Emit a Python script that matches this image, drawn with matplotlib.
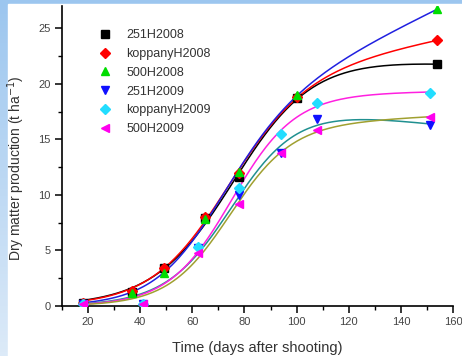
import numpy as np
import matplotlib
matplotlib.use('Agg')
import matplotlib.pyplot as plt
from matplotlib.lines import Line2D
from matplotlib.patches import Rectangle

plt.rcParams['font.family'] = ['Liberation Sans', 'DejaVu Sans']

# sampling days
days_2008 = [18, 37, 49, 65, 78, 100, 154]
days_2009 = [18, 41, 62, 78, 94, 108, 151]

# dry matter (t/ha)
h251_2008 = [0.25, 1.3, 3.4, 7.9, 11.6, 18.7, 21.75]
kop_2008 = [0.3, 1.35, 3.46, 8.0, 12.0, 18.8, 23.9]
h500_2008 = [0.2, 1.14, 2.95, 7.8, 12.1, 19.0, 26.7]
h251_2009 = [0.2, 0.15, 5.2, 10.0, 13.8, 16.8, 16.3]
kop_2009 = [0.2, 0.15, 5.35, 10.6, 15.5, 18.3, 19.2]
h500_2009 = [0.2, 0.15, 4.75, 9.2, 13.8, 15.8, 17.0]

series = [
    ('251H2008', days_2008, h251_2008, 's', 'black', 'black'),
    ('koppanyH2008', days_2008, kop_2008, 'D', 'red', 'red'),
    ('500H2008', days_2008, h500_2008, '^', '#00dd00', '#2020e0'),
    ('251H2009', days_2009, h251_2009, 'v', '#1010ff', '#209090'),
    ('koppanyH2009', days_2009, kop_2009, 'D', '#22ddff', '#ff20e0'),
    ('500H2009', days_2009, h500_2009, '<', '#ff00ee', '#a0a030'),
]


def model(p, x):
    # logistic growth with a slow linear drift at the top
    return p[0] / (1 + np.exp(-p[1] * (x - p[2]))) * (1 + p[3] * (x - 100) / 100)


def fit(x, y):
    # least squares fit (Levenberg-Marquardt, numpy only)
    x = np.asarray(x, float)
    y = np.asarray(y, float)
    p = np.array([max(y), 0.07, 75.0, 0.0])
    lam = 1e-2
    for _ in range(500):
        r = y - model(p, x)
        J = np.empty((len(x), len(p)))
        for k in range(len(p)):
            dp = np.zeros(len(p))
            dp[k] = 1e-6 * max(abs(p[k]), 1)
            J[:, k] = (model(p + dp, x) - model(p, x)) / dp[k]
        A = J.T @ J
        step = np.linalg.solve(A + lam * np.diag(np.diag(A) + 1e-9), J.T @ r)
        pn = p + step
        if np.sum((y - model(pn, x)) ** 2) < np.sum(r ** 2):
            p = pn
            lam *= 0.5
        else:
            lam *= 4
    return p


fig = plt.figure(figsize=(4.62, 3.56), dpi=100)

# blue frame background
bg = fig.add_axes([0, 0, 1, 1], zorder=-10)
grad = np.linspace(0, 1, 100).reshape(-1, 1)
bg.imshow(grad, aspect='auto', cmap=matplotlib.colors.LinearSegmentedColormap.from_list(
    'bl', ['#9cc6ef', '#dceaf8']), extent=[0, 1, 0, 1], origin='upper')
bg.add_patch(Rectangle((8 / 462, 0), 1, (356 - 4) / 356, color='white'))
bg.set_xlim(0, 1)
bg.set_ylim(0, 1)
bg.axis('off')

ax = fig.add_axes([62 / 462, 50 / 356, 391 / 462, 300 / 356])
ax.patch.set_alpha(0)

handles = []
for name, x, y, mk, mc, lc in series:
    p = fit(x, y)
    xs = np.linspace(min(x), max(x), 200)
    ax.plot(xs, model(p, xs), color=lc, lw=1.1, zorder=2)
    ms = 5 if mk == 'D' else 6
    ax.plot(x, y, linestyle='none', marker=mk, color=mc, ms=ms, zorder=3)
    handles.append(Line2D([], [], linestyle='none', marker=mk, color=mc, ms=ms, label=name))

ax.set_xlim(10, 160)
ax.set_ylim(0, 27)
ax.set_xticks(range(20, 161, 20))
ax.set_xticks(range(10, 161, 10), minor=True)
ax.set_yticks(range(0, 26, 5))
ax.set_yticks(np.arange(0, 27, 2.5), minor=True)
for s in ['top', 'right']:
    ax.spines[s].set_visible(False)
for s in ['left', 'bottom']:
    ax.spines[s].set_linewidth(1.2)
ax.tick_params(which='major', length=5, width=1.1, labelsize=8, labelcolor='#444444', pad=3)
ax.tick_params(which='minor', length=3, width=1.0)

ax.set_xlabel('Time (days after shooting)', fontsize=10.5, color='#333333', labelpad=10)
ax.set_ylabel('Dry matter production (t ha$^{-1}$)', fontsize=10, color='#333333', labelpad=4)
ax.yaxis.set_label_coords(-0.09, 0.46)

ax.legend(handles=handles, loc='upper left', bbox_to_anchor=(0.065, 0.94), frameon=False,
          fontsize=9, handletextpad=0.7, labelspacing=0.55, borderaxespad=0,
          labelcolor='#333333')

fig.savefig('out.png', dpi=100)
